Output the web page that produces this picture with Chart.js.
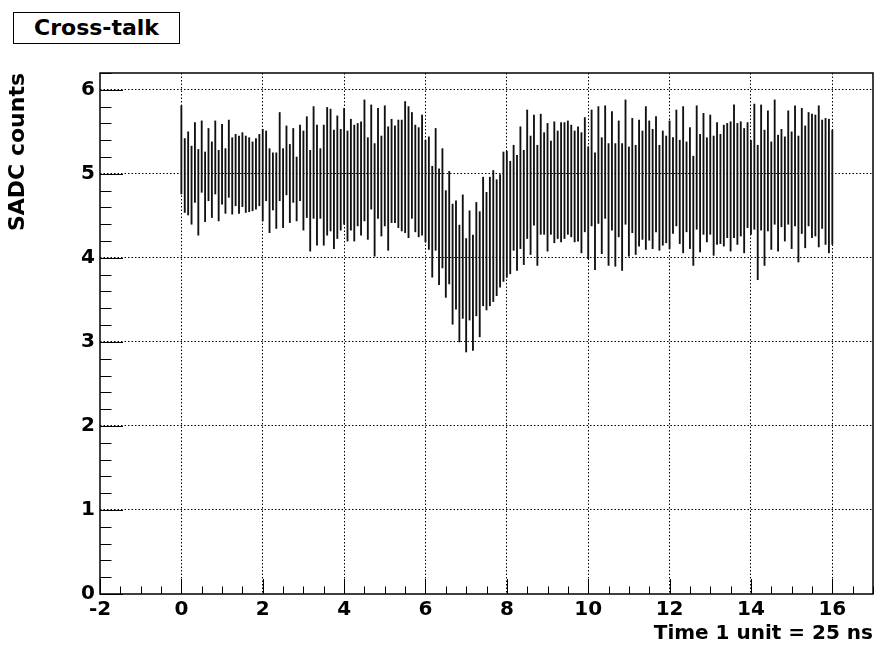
<!DOCTYPE html>
<html>
<head>
<meta charset="utf-8">
<script src="https://cdn.jsdelivr.net/npm/chart.js@4/dist/chart.umd.min.js"></script>
<style>
  body { margin: 0; background: #fff; }
  #wrap { position: relative; width: 877px; height: 646px; }
  #title {
    position: absolute; left: 13px; top: 12px; width: 165px; height: 30px;
    border: 1px solid #000; background: #fff;
    font: bold 22px "DejaVu Sans", sans-serif; line-height: 30px; text-align: center;
  }
</style>
</head>
<body>
<div id="wrap">
  <canvas id="c" width="877" height="646"></canvas>
  <div id="title">Cross-talk</div>
</div>
<script>
// one sample every 1/12 of a time unit, starting at t = 0
const samplesPerUnit = 12;

// upper end of each bar (SADC counts), one row per time unit
const countsHigh = [
  5.81, 5.42, 5.50, 5.33, 5.61, 5.29, 5.63, 5.26, 5.54, 5.38, 5.63, 5.28,
  5.59, 5.30, 5.64, 5.43, 5.47, 5.45, 5.49, 5.45, 5.43, 5.38, 5.42, 5.47,
  5.53, 5.51, 5.30, 5.25, 5.25, 5.73, 5.30, 5.57, 5.35, 5.54, 5.20, 5.58,
  5.51, 5.68, 5.28, 5.80, 5.58, 5.30, 5.58, 5.79, 5.77, 5.52, 5.69, 5.53,
  5.78, 5.51, 5.65, 5.58, 5.60, 5.62, 5.88, 5.43, 5.82, 5.36, 5.78, 5.45,
  5.81, 5.56, 5.65, 5.57, 5.64, 5.64, 5.86, 5.80, 5.73, 5.58, 5.55, 5.70,
  5.40, 5.44, 5.09, 5.54, 5.06, 5.30, 4.80, 5.03, 4.64, 4.68, 4.39, 4.75,
  4.23, 4.56, 4.27, 4.66, 4.55, 4.96, 4.78, 4.96, 5.04, 4.93, 4.99, 5.26,
  5.27, 5.15, 5.34, 5.22, 5.56, 5.28, 5.76, 5.45, 5.70, 5.34, 5.71, 5.49,
  5.60, 5.39, 5.62, 5.51, 5.61, 5.61, 5.63, 5.58, 5.51, 5.56, 5.49, 5.67,
  5.32, 5.76, 5.25, 5.80, 5.43, 5.81, 5.36, 5.74, 5.36, 5.63, 5.36, 5.88,
  5.32, 5.66, 5.34, 5.64, 5.51, 5.80, 5.63, 5.53, 5.68, 5.34, 5.51, 5.45,
  5.63, 5.43, 5.76, 5.40, 5.80, 5.38, 5.55, 5.21, 5.81, 5.47, 5.72, 5.43,
  5.70, 5.45, 5.61, 5.47, 5.58, 5.60, 5.62, 5.82, 5.60, 5.62, 5.54, 5.61,
  5.40, 5.83, 5.34, 5.82, 5.52, 5.75, 5.38, 5.88, 5.46, 5.53, 5.44, 5.75,
  5.50, 5.81, 5.45, 5.78, 5.57, 5.73, 5.71, 5.70, 5.81, 5.64, 5.66, 5.65,
  5.52
];

// lower end of each bar
const countsLow = [
  4.76, 4.54, 4.51, 4.40, 4.66, 4.27, 4.78, 4.43, 4.68, 4.48, 4.76, 4.44,
  4.64, 4.53, 4.72, 4.52, 4.62, 4.53, 4.61, 4.54, 4.55, 4.56, 4.58, 4.62,
  4.44, 4.68, 4.30, 4.57, 4.35, 4.68, 4.36, 4.75, 4.42, 4.66, 4.44, 4.68,
  4.33, 4.48, 4.08, 4.47, 4.15, 4.47, 4.15, 4.27, 4.32, 4.11, 4.23, 4.33,
  4.40, 4.20, 4.33, 4.20, 4.38, 4.27, 4.44, 4.22, 4.58, 4.02, 4.47, 4.26,
  4.38, 4.09, 4.42, 4.42, 4.36, 4.32, 4.30, 4.24, 4.47, 4.31, 4.25, 4.27,
  4.19, 4.10, 3.77, 4.09, 3.68, 3.88, 3.53, 3.69, 3.21, 3.39, 3.00, 3.28,
  2.88, 3.26, 2.90, 3.31, 3.06, 3.43, 3.38, 3.43, 3.48, 3.55, 3.65, 3.72,
  3.77, 3.81, 4.09, 3.85, 4.11, 3.92, 4.23, 4.04, 4.39, 3.91, 4.28, 4.28,
  4.08, 4.28, 4.18, 4.23, 4.19, 4.23, 4.28, 4.25, 4.19, 4.20, 4.06, 4.31,
  3.99, 4.38, 3.86, 4.41, 4.05, 4.47, 3.91, 4.33, 3.90, 4.25, 3.85, 4.40,
  4.02, 4.30, 4.04, 4.14, 4.22, 4.10, 4.21, 4.11, 4.31, 4.09, 4.15, 4.18,
  4.11, 4.29, 4.38, 4.17, 4.06, 4.31, 4.11, 3.91, 4.34, 4.07, 4.28, 4.19,
  4.28, 4.03, 4.16, 4.17, 4.14, 4.24, 4.08, 4.24, 4.16, 4.26, 4.06, 4.36,
  4.28, 4.34, 3.74, 4.33, 3.91, 4.32, 4.10, 4.40, 4.08, 4.37, 4.20, 4.40,
  4.11, 4.38, 3.95, 4.29, 4.12, 4.38, 4.24, 4.26, 4.13, 4.35, 4.16, 4.06,
  4.16
];

const sampleTime = countsLow.map((_, i) => i / samplesPerUnit);

const xMajor = v => Math.abs(v / 2 - Math.round(v / 2)) < 1e-6;
const yMajor = v => Math.abs(v - Math.round(v)) < 1e-6;

Chart.defaults.font.family = '"DejaVu Sans", sans-serif';
Chart.defaults.font.weight = 'bold';
Chart.defaults.color = '#000';

// ROOT style frame with tick marks pointing into the pad
const rootFrame = {
  id: 'rootFrame',
  afterDatasetsDraw(chart) {
    const { ctx, chartArea: a, scales: { x, y } } = chart;
    ctx.save();
    ctx.strokeStyle = '#000';
    ctx.lineWidth = 1;
    ctx.beginPath();
    x.ticks.forEach(t => {
      const px = Math.round(x.getPixelForValue(t.value)) + 0.5;
      const len = xMajor(t.value) ? 15 : 7.5;
      ctx.moveTo(px, a.bottom);
      ctx.lineTo(px, a.bottom - len);
    });
    y.ticks.forEach(t => {
      const py = Math.round(y.getPixelForValue(t.value)) + 0.5;
      const len = yMajor(t.value) ? 23 : 11.5;
      ctx.moveTo(a.left, py);
      ctx.lineTo(a.left + len, py);
    });
    ctx.stroke();
    ctx.lineWidth = 1.5;
    ctx.strokeRect(a.left, a.top, a.right - a.left, a.bottom - a.top);
    ctx.restore();
  }
};

new Chart(document.getElementById('c'), {
  type: 'bar',
  data: {
    datasets: [{
      data: sampleTime.map((t, i) => ({ x: t, y: [countsLow[i], countsHigh[i]] })),
      backgroundColor: '#111',
      borderWidth: 0,
      barThickness: 1.2,
      grouped: false
    }]
  },
  options: {
    responsive: false,
    animation: false,
    layout: { padding: { top: 73, right: 3, left: 0, bottom: 0 } },
    plugins: { legend: { display: false }, tooltip: { enabled: false } },
    scales: {
      x: {
        type: 'linear',
        min: -2,
        max: 17,
        offset: false,
        grid: {
          offset: false,
          drawTicks: false,
          lineWidth: 1,
          color: c => (xMajor(c.tick.value) && c.tick.value > -2) ? '#000' : 'rgba(0,0,0,0)'
        },
        border: { display: false, dash: [1.5, 2] },
        ticks: {
          stepSize: 0.5,
          autoSkip: false,
          maxRotation: 0,
          padding: 4,
          font: { size: 20, weight: 'bold' },
          callback: v => xMajor(v) ? String(Math.round(v)) : ''
        },
        title: {
          display: true,
          text: 'Time 1 unit = 25 ns',
          align: 'end',
          font: { size: 20, weight: 'bold' },
          padding: { top: 0, bottom: 0 }
        },
        afterFit: s => { s.height = 52; }
      },
      y: {
        min: 0,
        max: 6.2,
        grid: {
          drawTicks: false,
          lineWidth: 1,
          color: c => (yMajor(c.tick.value) && c.tick.value > 0) ? '#000' : 'rgba(0,0,0,0)'
        },
        border: { display: false, dash: [1.5, 2] },
        ticks: {
          stepSize: 0.2,
          autoSkip: false,
          padding: 5,
          font: { size: 20, weight: 'bold' },
          callback: v => yMajor(v) ? String(Math.round(v)) : ''
        },
        title: {
          display: true,
          text: 'SADC counts',
          align: 'end',
          font: { size: 22, weight: 'bold' },
          padding: { top: 5, bottom: 0 }
        },
        afterFit: s => { s.width = 100; }
      }
    }
  },
  plugins: [rootFrame]
});
</script>
</body>
</html>
